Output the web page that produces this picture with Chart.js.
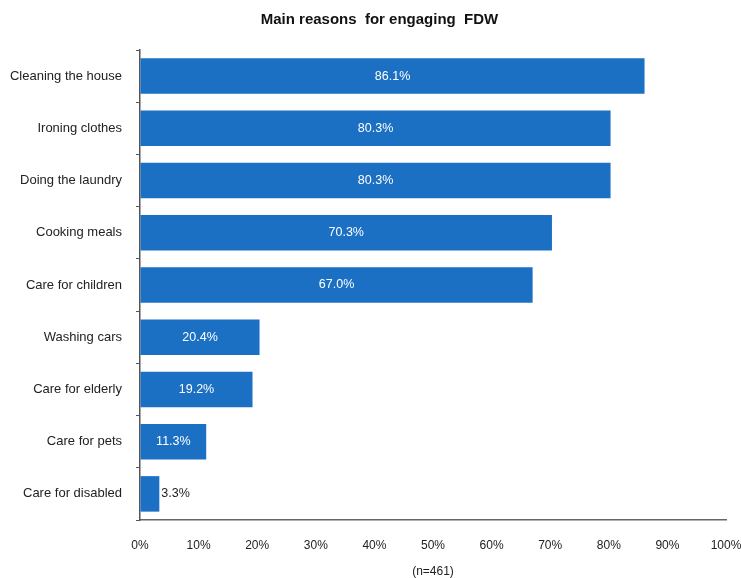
<!DOCTYPE html>
<html><head><meta charset="utf-8">
<script src="https://cdn.jsdelivr.net/npm/chart.js@4/dist/chart.umd.min.js"></script>
<style>html,body{margin:0;padding:0;background:#fff}#wrap{width:741px;height:578px}</style>
</head><body><div id="wrap"><canvas id="c"></canvas></div>
<script>
const categories = ["Cleaning the house","Ironing clothes","Doing the laundry","Cooking meals","Care for children","Washing cars","Care for elderly","Care for pets","Care for disabled"];
const values = [86.1, 80.3, 80.3, 70.3, 67.0, 20.4, 19.2, 11.3, 3.3];
const xTicks = [0,10,20,30,40,50,60,70,80,90,100];
const titleText = "Main reasons  for engaging  FDW";
const xTitle = "(n=461)";

const FONT = "'Liberation Sans', Arial, sans-serif";

const labelPlugin = {
  id: 'barLabels',
  afterLayout(chart) {
    const t = chart.titleBlock;
    if (t) { t.left += 9; t.right += 9; }
  },
  afterDatasetsDraw(chart) {
    const ctx = chart.ctx;
    const meta = chart.getDatasetMeta(0);
    ctx.save();
    ctx.font = "12.5px " + FONT;
    ctx.textBaseline = 'middle';
    meta.data.forEach((bar, i) => {
      const txt = values[i].toFixed(1) + '%';
      const w = ctx.measureText(txt).width;
      const barW = bar.x - bar.base;
      if (barW > w + 8) {
        ctx.fillStyle = '#ffffff';
        ctx.textAlign = 'center';
        ctx.fillText(txt, (bar.x + bar.base) / 2, bar.y);
      } else {
        ctx.fillStyle = '#222222';
        ctx.textAlign = 'left';
        ctx.fillText(txt, bar.x + 2, bar.y);
      }
    });
    ctx.restore();
  }
};

new Chart(document.getElementById('c'), {
  type: 'bar',
  data: {
    labels: categories,
    datasets: [{
      data: values,
      backgroundColor: '#1c70c4',
      borderWidth: 0,
      barPercentage: 0.68,
      categoryPercentage: 1.0
    }]
  },
  plugins: [labelPlugin],
  options: {
    indexAxis: 'y',
    responsive: true,
    maintainAspectRatio: false,
    animation: false,
    layout: { padding: { left: 0, right: 0, top: 0, bottom: 0 } },
    plugins: {
      legend: { display: false },
      tooltip: { enabled: false },
      title: {
        display: true,
        text: titleText,
        color: '#111',
        font: { family: FONT, size: 15, weight: 'bold' },
        padding: { top: 11, bottom: 21 }
      }
    },
    scales: {
      x: {
        min: 0, max: 100,
        afterBuildTicks(scale) { scale.ticks = xTicks.map(v => ({ value: v })); },
        afterFit(scale) { scale.height = 58; scale.paddingRight = 15; scale.paddingLeft = 0; },
        ticks: {
          color: '#222',
          font: { family: FONT, size: 12 },
          padding: 18,
          callback: v => v + '%'
        },
        grid: { display: true, drawOnChartArea: false, drawTicks: false },
        border: { display: true, color: '#666', width: 1.5 },
        title: {
          display: true,
          text: xTitle,
          color: '#222',
          font: { family: FONT, size: 12 },
          padding: { top: 0, bottom: -1 }
        }
      },
      y: {
        afterFit(scale) { scale.width = 140; },
        ticks: {
          color: '#222',
          font: { family: FONT, size: 13 },
          padding: 14
        },
        grid: { display: true, drawOnChartArea: false, drawTicks: true, tickLength: 4, color: '#555', offset: true },
        border: { display: true, color: '#555', width: 1.5 }
      }
    }
  }
});
</script>
</body></html>
